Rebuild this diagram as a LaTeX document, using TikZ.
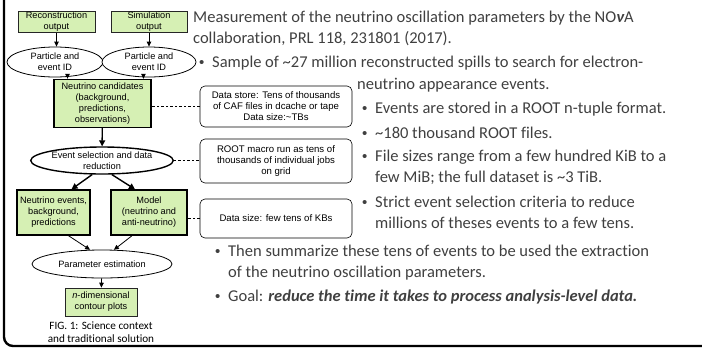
\documentclass[tikz,border=0pt]{standalone}
\usepackage{fontspec}
\setmainfont{Carlito}[Ligatures={NoCommon}]
\newfontfamily\diagfont{Liberation Sans}
\usetikzlibrary{arrows.meta,shapes.geometric}
\definecolor{boxgreen}{RGB}{214,240,180}
\definecolor{bodygray}{RGB}{64,64,64}
\newcommand{\blt}{{\diagfont\fontsize{15}{15}\selectfont\textbullet}}
\begin{document}
\begin{tikzpicture}[x=1pt,y=-1pt,
  dfont/.style={font=\diagfont\fontsize{9.2}{11}\selectfont},
  nfont/.style={font=\diagfont\fontsize{9.6}{11}\selectfont},
  greenbox/.style={dfont,draw=black!85,fill=boxgreen,align=center,inner sep=0pt,line width=0.6pt},
  heavybox/.style={greenbox,line width=1.4pt,draw=black},
  oval/.style={dfont,ellipse,draw,fill=white,align=center,inner sep=0pt,line width=0.8pt},
  heavyoval/.style={oval,line width=1.4pt},
  notebox/.style={nfont,draw,fill=white,rounded corners=5pt,align=center,inner sep=0pt,line width=0.6pt,minimum width=152},
  thinarrow/.style={-{Triangle[length=5pt,width=4.5pt]},line width=0.8pt},
  thickarrow/.style={-{Triangle[length=6pt,width=6pt]},line width=1.4pt},
  link/.style={dashed,dash pattern=on 2.5pt off 2pt,line width=0.6pt},
  body/.style={font=\fontsize{16.5}{20}\selectfont,text=bodygray,inner sep=0pt,anchor=base west},
  dot/.style={text=bodygray,inner sep=0pt,anchor=base west},
]
\useasboundingbox (0,0) rectangle (702,349);
% outer frame, open at the top and right
\draw[line width=2.4pt,rounded corners=9pt] (4,-10) -- (4,346) -- (712,346);

% flow chart
\node[greenbox,minimum width=77,minimum height=21] (rec) at (56.5,22) {Reconstruction\\output};
\node[greenbox,minimum width=76,minimum height=21] (sim) at (149,22) {Simulation\\output};
\node[oval,minimum width=96,minimum height=30] (pe1) at (55,62) {Particle and\\event ID};
\node[oval,minimum width=94,minimum height=30] (pe2) at (149,62) {Particle and\\event ID};
\node[heavybox,minimum width=97,minimum height=48] (cand) at (102.5,103.5) {Neutrino candidates\\(background,\\predictions,\\observations)};
\node[heavyoval,minimum width=140,minimum height=27] (sel) at (102,160.5) {Event selection and data\\reduction};
\node[heavybox,minimum width=73,minimum height=45] (nev) at (53.5,212.5) {Neutrino events,\\background,\\predictions};
\node[heavybox,minimum width=76,minimum height=45] (model) at (149,212.5) {Model\\(neutrino and\\anti-neutrino)};
\node[oval,minimum width=140,minimum height=28] (par) at (102,264) {Parameter estimation};
\node[greenbox,minimum width=72,minimum height=28] (cont) at (101,302) {\textit{n}-dimensional\\contour plots};
\node[font=\fontsize{11.2}{13.5}\selectfont,align=center,inner sep=0pt] (cap) at (101,332) {FIG. 1: Science context\\and traditional solution};

\draw[thinarrow] (rec.south) -- (rec.south |- pe1.north);
\draw[thinarrow] (sim.south) -- (sim.south |- pe2.north);
\draw[thinarrow] (pe1.-50) -- (pe1.-50 |- cand.north);
\draw[thinarrow] (pe2.-110) -- (pe2.-110 |- cand.north);
\draw[thickarrow] (cand) -- (sel);
\draw[thickarrow] (sel.-125) -- ([xshift=18pt]nev.north);
\draw[thickarrow] (sel.-55) -- ([xshift=-14pt]model.north);
\draw[thinarrow] ([xshift=15pt]nev.south) -- (par.130);
\draw[thinarrow] ([xshift=-17pt]model.south) -- (par.50);
\draw[thinarrow] (par) -- (cont);

% side notes
\node[notebox,minimum height=41] (n1) at (276,106.5) {Data store: Tens of thousands\\of CAF files in dcache or tape\\Data size:\textasciitilde TBs};
\node[notebox,minimum height=44] (n2) at (276,161) {ROOT macro run as tens of\\thousands of individual jobs\\on grid};
\node[notebox,minimum height=39] (n3) at (276,218.5) {Data size: few tens of KBs};
\draw[link] (n1.west) -- (n1.west -| cand.east);
\draw[link] (sel.east) -- (sel.east -| n2.west);
\draw[link] (n3.west) -- (n3.west -| model.east);

% description text
\node[body] (t1) at (193,22) {Measurement of the neutrino oscillation parameters by the NO{\bfseries\itshape ν}A};
\node[body] (t2) at (193,43) {collaboration, PRL 118, 231801 (2017).};
\node[dot] (b1) at (199,67) {\blt};
\node[body] (t3) at (212,67) {Sample of \textasciitilde 27 million reconstructed spills to search for electron-};
\node[body] (t4) at (357,89) {neutrino appearance events.};
\node[dot] (b2) at (362,113) {\blt};
\node[body] (t5) at (375,113) {Events are stored in a ROOT n-tuple format.};
\node[dot] (b3) at (362,138) {\blt};
\node[body] (t6) at (375,138) {\textasciitilde 180 thousand ROOT files.};
\node[dot] (b4) at (362,161) {\blt};
\node[body] (t7) at (375,161) {File sizes range from a few hundred KiB to a};
\node[body] (t8) at (375,182) {few MiB; the full dataset is \textasciitilde 3 TiB.};
\node[dot] (b5) at (362,207) {\blt};
\node[body] (t9) at (375,207) {Strict event selection criteria to reduce};
\node[body] (t10) at (375,228) {millions of theses events to a few tens.};
\node[dot] (b6) at (215,256) {\blt};
\node[body] (t11) at (228,256) {Then summarize these tens of events to be used the extraction};
\node[body] (t12) at (228,277) {of the neutrino oscillation parameters.};
\node[dot] (b7) at (215,301) {\blt};
\node[body] (t13) at (228,301) {Goal: {\bfseries\itshape reduce the time it takes to process analysis-level data.}};
\end{tikzpicture}
\end{document}
